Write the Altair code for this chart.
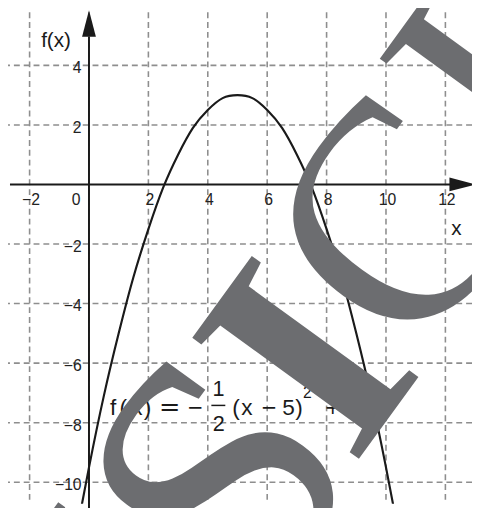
import altair as alt
import pandas as pd

# ---- data ----
curve_x = [-0.5, 0, 0.5, 1, 1.5, 2, 2.5, 3, 3.5, 4, 4.5, 5,
           5.5, 6, 6.5, 7, 7.5, 8, 8.5, 9, 9.5, 10, 10.5]
curve_y = [-12.1, -9.5, -7.1, -5.0, -3.1, -1.5, -0.1, 1.0, 1.9, 2.5, 2.9, 3.0,
           2.9, 2.5, 1.9, 1.0, -0.1, -1.5, -3.1, -5.0, -7.1, -9.5, -12.1]

grid_x = [-2, 0, 2, 4, 6, 8, 10, 12]
grid_y = [4, 2, -2, -4, -6, -8, -10]

x_ticks = [-2, 2, 4, 6, 8, 10, 12]
x_tick_labels = ["−2", "2", "4", "6", "8", "10", "12"]
origin_label = ["0"]
y_ticks = [4, 2, -2, -4, -6, -8, -10]
y_tick_labels = ["4", "2", "−2", "−4", "−6", "−8", "−10"]

axis_titles = ["f(x)", "x"]
axis_title_x = [-1.11, 12.37]
axis_title_y = [4.6, -1.71]

# equation pieces  f(x) = −1/2 (x − 5)^2 +
eq_main_text = ["f", "(", "x", ")", "(", "x", "5", ")"]
eq_main_x = [0.81, 1.15, 1.61, 1.97, 4.95, 5.32, 6.72, 7.07]
eq_main_y = [-7.73] * 8
eq_frac_text = ["1", "2"]
eq_frac_x = [4.36, 4.37]
eq_frac_y = [-7.09, -8.28]
eq_sup_text = ["2"]
eq_sup_x = [7.35]
eq_sup_y = [-7.16]
eq_ops_text = ["=", "−", "−", "+"]
eq_ops_x = [2.72, 3.58, 6.06, 8.21]
eq_ops_y = [-7.75, -7.70, -7.70, -7.70]
eq_ops_size = [26, 20, 20, 20]

# watermark letters (regular weight) and the bold I
wm_text = ["N", "S", "C", "H"]
wm_x = [2.69, 7.51, 13.13, 17.71]
wm_y = [-18.06, -12.17, -3.23, 2.96]
wm_size = [340, 360, 320, 330]
wm_i_text = ["I"]
wm_i_x = [10.09]
wm_i_y = [-7.84]

# ---- scales ----
XMIN, XMAX = -2.727, 12.896
YMIN, YMAX = -10.723, 5.784
xs = alt.Scale(domain=[XMIN, XMAX], nice=False, zero=False)
ys = alt.Scale(domain=[YMIN, YMAX], nice=False, zero=False)


def X(f, **k):
    return alt.X(f, type="quantitative", scale=xs, axis=None, **k)


def Y(f, **k):
    return alt.Y(f, type="quantitative", scale=ys, axis=None, **k)


INK = "#1a1a1a"
GRID = "#8e8e8e"
WM = "#6c6d70"

curve = pd.DataFrame({"x": curve_x, "y": curve_y})

vgrid = alt.Chart(pd.DataFrame({"x": grid_x})).mark_rule(
    color=GRID, strokeWidth=1.6, strokeDash=[6, 4]
).encode(x=X("x"))
hgrid = alt.Chart(pd.DataFrame({"y": grid_y})).mark_rule(
    color=GRID, strokeWidth=1.6, strokeDash=[6, 4]
).encode(y=Y("y"))

line = alt.Chart(curve).mark_line(
    color=INK, strokeWidth=2.2, interpolate="natural", clip=True
).encode(x=X("x"), y=Y("y"))

axes_df = pd.DataFrame({
    "x": [-2.66, 0.0], "x2": [12.2, 0.0],
    "y": [0.0, -11.0], "y2": [0.0, 4.96],
})
axes = alt.Chart(axes_df).mark_rule(color=INK, strokeWidth=2).encode(
    x=X("x"), x2="x2", y=Y("y"), y2="y2"
)

arrow_x = alt.Chart(pd.DataFrame({"x": [13.03], "y": [0.0]})).mark_point(
    shape="M0,0 L-1,-0.26 L-1,0.26 Z", size=2916, filled=True,
    color=INK, opacity=1, strokeWidth=0
).encode(x=X("x"), y=Y("y"))
arrow_y = alt.Chart(pd.DataFrame({"x": [0.0], "y": [5.85]})).mark_point(
    shape="M0,0 L-0.26,1 L0.26,1 Z", size=2916, filled=True,
    color=INK, opacity=1, strokeWidth=0
).encode(x=X("x"), y=Y("y"))

xlab = alt.Chart(pd.DataFrame({"x": x_ticks, "t": x_tick_labels, "y": [0] * len(x_ticks)})).mark_text(
    font="Liberation Sans", fontSize=16, color="#222222", align="center",
    baseline="alphabetic", dx=1.5, dy=21.3
).encode(x=X("x"), y=Y("y"), text="t:N")
olab = alt.Chart(pd.DataFrame({"x": [0], "t": origin_label, "y": [0]})).mark_text(
    font="Liberation Sans", fontSize=16, color="#222222", align="center",
    baseline="alphabetic", dx=-13, dy=21.3
).encode(x=X("x"), y=Y("y"), text="t:N")
ylab = alt.Chart(pd.DataFrame({"y": y_ticks, "t": y_tick_labels, "x": [0] * len(y_ticks)})).mark_text(
    font="Liberation Sans", fontSize=16, color="#222222", align="right",
    baseline="alphabetic", dx=-7.5, dy=8
).encode(x=X("x"), y=Y("y"), text="t:N")

titles = alt.Chart(pd.DataFrame({"x": axis_title_x, "y": axis_title_y, "t": axis_titles})).mark_text(
    font="Liberation Sans", fontSize=21, color=INK, align="center", baseline="alphabetic"
).encode(x=X("x"), y=Y("y"), text="t:N")

eq_main = alt.Chart(pd.DataFrame({"x": eq_main_x, "y": eq_main_y, "t": eq_main_text})).mark_text(
    font="Liberation Sans", fontSize=23, color=INK, align="center", baseline="alphabetic"
).encode(x=X("x"), y=Y("y"), text="t:N")
eq_frac = alt.Chart(pd.DataFrame({"x": eq_frac_x, "y": eq_frac_y, "t": eq_frac_text})).mark_text(
    font="Liberation Sans", fontSize=22, color=INK, align="center", baseline="alphabetic"
).encode(x=X("x"), y=Y("y"), text="t:N")
eq_sup = alt.Chart(pd.DataFrame({"x": eq_sup_x, "y": eq_sup_y, "t": eq_sup_text})).mark_text(
    font="Liberation Sans", fontSize=16, color=INK, align="center", baseline="alphabetic"
).encode(x=X("x"), y=Y("y"), text="t:N")
eq_ops = alt.Chart(pd.DataFrame({"x": eq_ops_x, "y": eq_ops_y, "t": eq_ops_text, "s": eq_ops_size})).mark_text(
    font="DejaVu Sans", color=INK, align="center", baseline="alphabetic"
).encode(x=X("x"), y=Y("y"), text="t:N", size=alt.Size("s:Q", scale=None))
frac_bar = alt.Chart(pd.DataFrame({"x": [4.12], "x2": [4.59], "y": [-7.42]})).mark_rule(
    color=INK, strokeWidth=1.5
).encode(x=X("x"), x2="x2", y=Y("y"))

watermark = alt.Chart(pd.DataFrame({"x": wm_x, "y": wm_y, "t": wm_text, "s": wm_size})).mark_text(
    font="Liberation Serif", color=WM, align="center",
    baseline="alphabetic", angle=306
).encode(x=X("x"), y=Y("y"), text="t:N", size=alt.Size("s:Q", scale=None))
watermark_i = alt.Chart(pd.DataFrame({"x": wm_i_x, "y": wm_i_y, "t": wm_i_text})).mark_text(
    font="Liberation Serif", fontSize=320, fontWeight="bold", color=WM, align="center",
    baseline="alphabetic", angle=306
).encode(x=X("x"), y=Y("y"), text="t:N")

chart = alt.layer(
    vgrid, hgrid, line, axes, arrow_x, arrow_y, xlab, olab, ylab, titles,
    eq_main, eq_frac, eq_sup, eq_ops, frac_bar, watermark, watermark_i
).properties(
    width=472, height=500,
    autosize=alt.AutoSizeParams(type="none"),
    padding=0, background="white"
).configure_view(strokeWidth=0)

chart.save("out.html", embed_options={"renderer": "svg", "actions": False})
